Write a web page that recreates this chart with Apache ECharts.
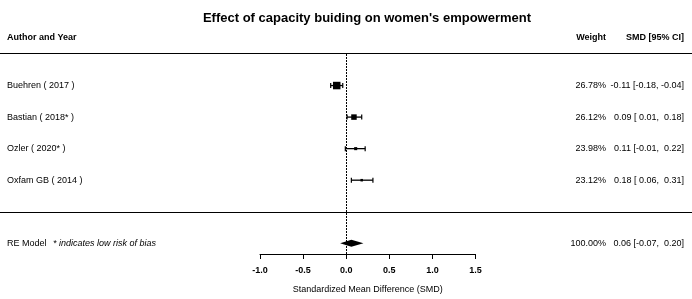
<!DOCTYPE html>
<html>
<head>
    <meta charset="utf-8">
    <title>Forest plot</title>
    <script src="https://cdn.jsdelivr.net/npm/echarts@6/dist/echarts.min.js"></script>
    <style>
        html, body { margin: 0; padding: 0; background: #fff; }
        #main { width: 692px; height: 299px; }
    </style>
</head>
<body>
<div id="main"></div>
<script type="text/javascript">
    // study rows
    var studies = ['Buehren ( 2017 )', 'Bastian ( 2018* )', 'Ozler ( 2020* )', 'Oxfam GB ( 2014 )'];
    var weights = [26.78, 26.12, 23.98, 23.12];
    var smd = [-0.11, 0.09, 0.11, 0.18];
    var ciLow = [-0.18, 0.01, -0.01, 0.06];
    var ciHigh = [-0.04, 0.18, 0.22, 0.31];

    // pooled RE model
    var reLabel = 'RE Model';
    var reNote = '* indicates low risk of bias';
    var reWeight = 100.00;
    var reEst = 0.06;
    var reLow = -0.07;
    var reHigh = 0.20;

    var xTicks = [-1.0, -0.5, 0.0, 0.5, 1.0, 1.5];

    var font = 'Liberation Sans, Arial, sans-serif';
    var COL_AUTHOR = 7, COL_WEIGHT = 606, COL_SMD = 684;

    function pad(v) {
        var s = v.toFixed(2);
        return v < 0 ? s : ' ' + s;
    }
    function ciText(e, lo, hi) {
        return e.toFixed(2) + ' [' + pad(lo) + ', ' + pad(hi) + ']';
    }

    // box size like metafor: scaled by precision (1/CI width)
    var prec = ciLow.map(function (lo, i) { return 1 / (ciHigh[i] - lo); });
    var pMin = Math.min.apply(null, prec), pMax = Math.max.apply(null, prec);

    var rows = studies.map(function (s, i) {
        return [i, smd[i], ciLow[i], ciHigh[i], i + 1];
    });

    var myChart = echarts.init(document.getElementById('main'));

    var option = {
        animation: false,
        backgroundColor: '#fff',
        textStyle: { fontFamily: font },
        title: {
            text: "Effect of capacity buiding on women's empowerment",
            left: 362, top: 7, textAlign: 'center',
            textStyle: { fontFamily: font, fontSize: 13, fontWeight: 'bold', color: '#000' }
        },
        grid: { left: 260, right: 216.5, top: 54, bottom: 44 },
        xAxis: {
            type: 'value', min: xTicks[0], max: xTicks[xTicks.length - 1], interval: 0.5,
            position: 'bottom',
            name: 'Standardized Mean Difference (SMD)',
            nameLocation: 'middle', nameGap: 31,
            nameTextStyle: { fontFamily: font, fontSize: 9, color: '#000' },
            axisLine: { show: true, onZero: false, lineStyle: { color: '#000', width: 1 } },
            axisTick: { show: true, length: 5, lineStyle: { color: '#000' } },
            axisLabel: {
                margin: 12, fontFamily: font, fontSize: 9, fontWeight: 'bold', color: '#000',
                formatter: function (v) { return v.toFixed(1); }
            },
            splitLine: { show: false }
        },
        yAxis: { type: 'value', min: 0, max: 6.34, inverse: true, show: false },
        graphic: [
            { type: 'line', shape: { x1: 0, y1: 53.5, x2: 692, y2: 53.5 }, style: { stroke: '#000', lineWidth: 1 } },
            { type: 'line', shape: { x1: 0, y1: 212.5, x2: 692, y2: 212.5 }, style: { stroke: '#000', lineWidth: 1 } },
            { type: 'text', left: COL_AUTHOR, top: 33, style: { text: 'Author and Year', font: 'bold 9px ' + font, fill: '#000' } },
            { type: 'text', x: COL_WEIGHT, y: 33, style: { text: 'Weight', font: 'bold 9px ' + font, fill: '#000', align: 'right' } },
            { type: 'text', x: COL_SMD, y: 33, style: { text: 'SMD [95% CI]', font: 'bold 9px ' + font, fill: '#000', align: 'right' } }
        ],
        series: [
            {
                type: 'custom',
                data: rows,
                clip: false,
                renderItem: function (params, api) {
                    var i = api.value(0);
                    var yv = api.value(4);
                    var c = api.coord([api.value(1), yv]);
                    var l = api.coord([api.value(2), yv]);
                    var h = api.coord([api.value(3), yv]);
                    var y = c[1];
                    var ps = (prec[i] - pMin) / (pMax - pMin) + 0.5;
                    var sz = ps * 5;
                    return {
                        type: 'group',
                        children: [
                            { type: 'line', shape: { x1: l[0], y1: y, x2: h[0], y2: y }, style: { stroke: '#000', lineWidth: 1.3 } },
                            { type: 'line', shape: { x1: l[0], y1: y - 2.5, x2: l[0], y2: y + 2.5 }, style: { stroke: '#000', lineWidth: 1.2 } },
                            { type: 'line', shape: { x1: h[0], y1: y - 2.5, x2: h[0], y2: y + 2.5 }, style: { stroke: '#000', lineWidth: 1.2 } },
                            { type: 'rect', shape: { x: c[0] - sz / 2, y: y - sz / 2, width: sz, height: sz }, style: { fill: '#000' } },
                            { type: 'text', x: COL_AUTHOR, y: y, style: { text: studies[i], font: '9px ' + font, fill: '#000', verticalAlign: 'middle' } },
                            { type: 'text', x: COL_WEIGHT, y: y, style: { text: weights[i].toFixed(2) + '%', font: '9px ' + font, fill: '#000', align: 'right', verticalAlign: 'middle' } },
                            { type: 'text', x: COL_SMD, y: y, style: { text: ciText(smd[i], ciLow[i], ciHigh[i]), font: '9px ' + font, fill: '#000', align: 'right', verticalAlign: 'middle' } }
                        ]
                    };
                },
                markLine: {
                    silent: true, symbol: 'none',
                    label: { show: false },
                    lineStyle: { color: '#000', type: [2, 1], width: 1 },
                    data: [{ xAxis: 0 }]
                }
            },
            {
                type: 'custom',
                data: [[reEst, reLow, reHigh, 6]],
                clip: false,
                renderItem: function (params, api) {
                    var yv = api.value(3);
                    var c = api.coord([api.value(0), yv]);
                    var l = api.coord([api.value(1), yv]);
                    var h = api.coord([api.value(2), yv]);
                    var y = c[1];
                    return {
                        type: 'group',
                        children: [
                            { type: 'polygon', shape: { points: [[l[0], y], [c[0], y - 3.5], [h[0], y], [c[0], y + 3.5]] }, style: { fill: '#000' } },
                            { type: 'text', x: COL_AUTHOR, y: y, style: { text: reLabel, font: '9px ' + font, fill: '#000', verticalAlign: 'middle' } },
                            { type: 'text', x: 53, y: y, style: { text: reNote, font: 'italic 9px ' + font, fill: '#000', verticalAlign: 'middle' } },
                            { type: 'text', x: COL_WEIGHT, y: y, style: { text: reWeight.toFixed(2) + '%', font: '9px ' + font, fill: '#000', align: 'right', verticalAlign: 'middle' } },
                            { type: 'text', x: COL_SMD, y: y, style: { text: ciText(reEst, reLow, reHigh), font: '9px ' + font, fill: '#000', align: 'right', verticalAlign: 'middle' } }
                        ]
                    };
                }
            }
        ]
    };
    myChart.setOption(option);
</script>
</body>
</html>
